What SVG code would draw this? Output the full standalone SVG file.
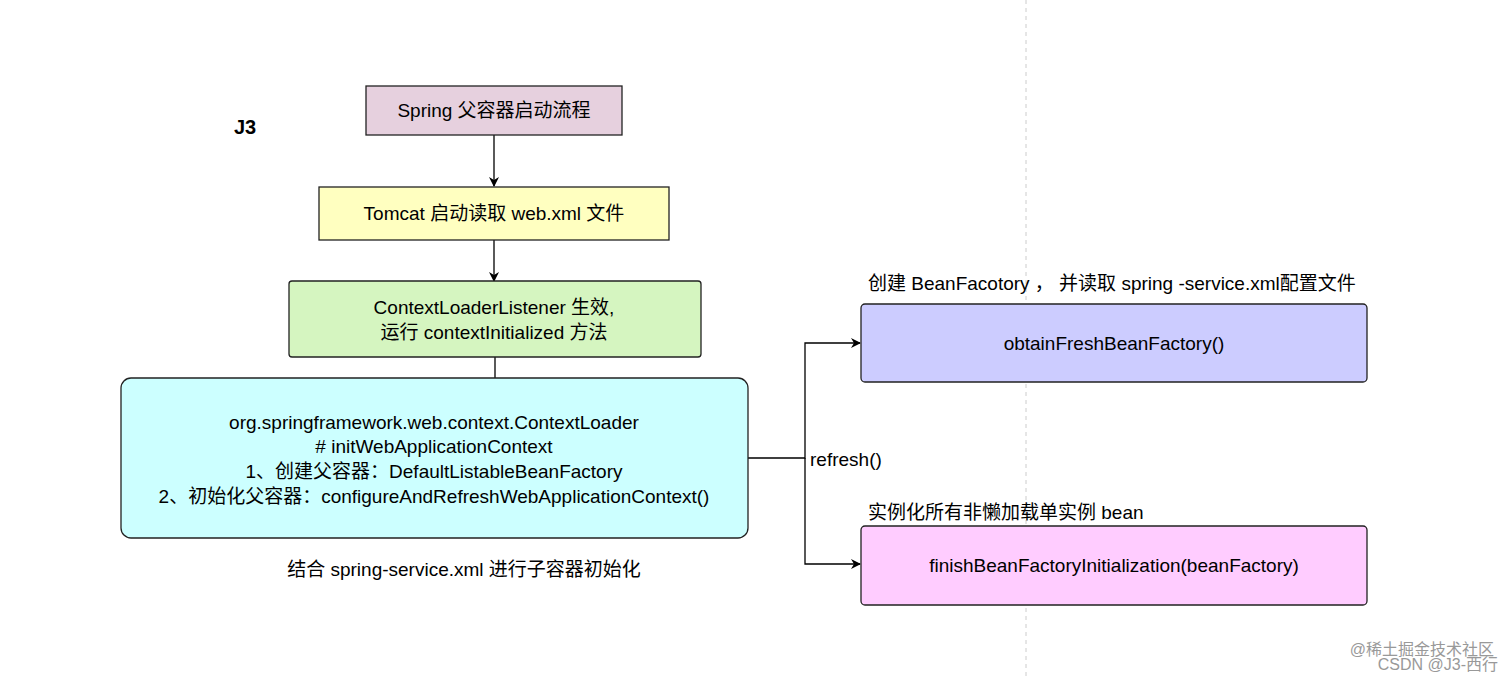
<svg xmlns="http://www.w3.org/2000/svg" width="1512" height="680" viewBox="0 0 1512 680">
<defs>
<style>
text{font-family:"Liberation Sans","Noto Sans CJK SC",sans-serif;font-size:19px;fill:#000}
.c{text-anchor:middle}
.b{stroke:#222;stroke-width:1.3}
.l{stroke:#000;stroke-width:1.3;fill:none}
.wm{fill:#999;font-size:16px;text-anchor:end}
</style>
<marker id="a" markerWidth="10" markerHeight="10" refX="9" refY="5" orient="auto" markerUnits="userSpaceOnUse"><path d="M0,0 L10,5 L0,10 L3,5 Z" fill="#000"/></marker>
</defs>
<rect width="1512" height="680" fill="#fff"/>
<line x1="1026" y1="0" x2="1026" y2="680" stroke="#ccc" stroke-dasharray="4,4"/>
<text x="234" y="134" style="font-weight:bold;font-size:20px">J3</text>
<g id="connectors">
<line class="l" x1="494" y1="135" x2="494" y2="186" marker-end="url(#a)"/>
<line class="l" x1="494" y1="240" x2="494" y2="281" marker-end="url(#a)"/>
<line class="l" x1="495" y1="357" x2="495" y2="378"/>
<polyline class="l" points="748,458 805,458 805,343 860,343" marker-end="url(#a)"/>
<polyline class="l" points="805,458 805,564 860,564" marker-end="url(#a)"/>
<text x="810" y="466">refresh()</text>
</g>
<g id="n1"><rect class="b" x="366" y="86" width="256" height="49" fill="#e6d0de"/><text class="c" x="494" y="117">Spring 父容器启动流程</text></g>
<g id="n2"><rect class="b" x="319" y="187" width="350" height="53" fill="#ffffc0"/><text class="c" x="494" y="220">Tomcat 启动读取 web.xml 文件</text></g>
<g id="n3"><rect class="b" x="289" y="281" width="412" height="76" rx="3" fill="#d5f5c0"/><text class="c" x="494" y="314">ContextLoaderListener 生效,</text><text class="c" x="494" y="339">运行 contextInitialized 方法</text></g>
<g id="n4"><rect class="b" x="121" y="378" width="627" height="160" rx="10" fill="#ccffff"/>
<text class="c" x="434" y="429">org.springframework.web.context.ContextLoader</text>
<text class="c" x="434" y="453"># initWebApplicationContext</text>
<text class="c" x="434" y="478">1、创建父容器：DefaultListableBeanFactory</text>
<text class="c" x="434" y="503">2、初始化父容器：configureAndRefreshWebApplicationContext()</text></g>
<text class="c" x="464" y="576">结合 spring-service.xml 进行子容器初始化</text>
<g id="n5"><rect class="b" x="861" y="304" width="506" height="78" rx="4" fill="#ccccff"/><text class="c" x="1114" y="350">obtainFreshBeanFactory()</text></g>
<text x="868" y="290">创建 BeanFacotory ， 并读取 spring -service.xml配置文件</text>
<g id="n6"><rect class="b" x="861" y="526" width="506" height="79" rx="4" fill="#ffccff"/><text class="c" x="1114" y="572">finishBeanFactoryInitialization(beanFactory)</text></g>
<text x="868" y="519">实例化所有非懒加载单实例 bean</text>
<text class="wm" x="1494" y="655">@稀土掘金技术社区</text>
<text class="wm" x="1498" y="670">CSDN @J3-西行</text>
</svg>
